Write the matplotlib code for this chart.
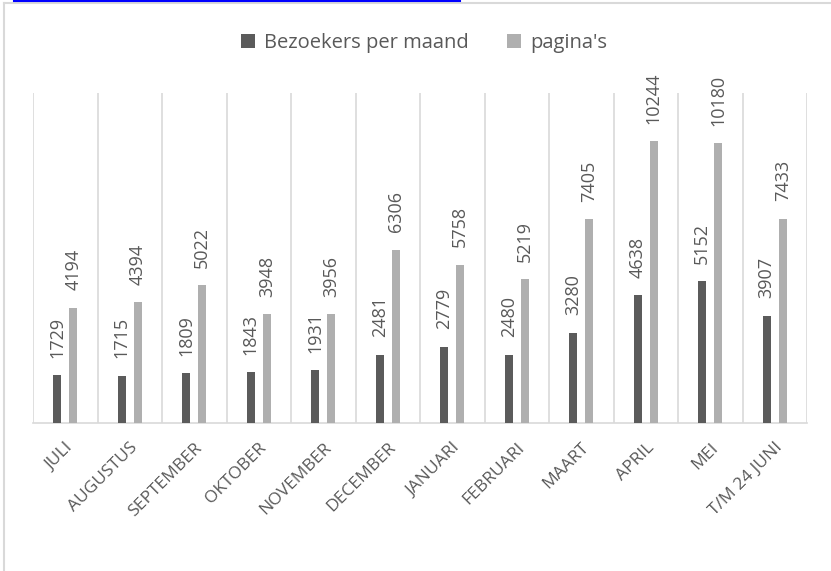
import matplotlib.pyplot as plt
import numpy as np
from matplotlib.lines import Line2D

months = ['JULI', 'AUGUSTUS', 'SEPTEMBER', 'OKTOBER', 'NOVEMBER', 'DECEMBER',
          'JANUARI', 'FEBRUARI', 'MAART', 'APRIL', 'MEI', 'T/M 24 JUNI']
bezoekers = [1729, 1715, 1809, 1843, 1931, 2481, 2779, 2480, 3280, 4638, 5152, 3907]
paginas = [4194, 4394, 5022, 3948, 3956, 6306, 5758, 5219, 7405, 10244, 10180, 7433]

dark = '#5b5b5b'
light = '#afafaf'
txt = '#595959'
grid = '#d9d9d9'

plt.rcParams['font.family'] = ['Open Sans', 'DejaVu Sans']

fig = plt.figure(figsize=(8.31, 5.71), dpi=100)
ax = fig.add_axes([33 / 831, 1 - 423 / 571, 774 / 831, 330 / 571])

x = np.arange(len(months))
w = 0.125
b1 = ax.bar(x - w, bezoekers, w, color=dark, label='Bezoekers per maand', zorder=3)
b2 = ax.bar(x + w, paginas, w, color=light, label="pagina's", zorder=3)

for xi, v in zip(x - w, bezoekers):
    ax.annotate(str(v), (xi, v), xytext=(0, 12.5), textcoords='offset points',
                rotation=90, ha='center', va='bottom', fontsize=13, color=txt)
for xi, v in zip(x + w, paginas):
    ax.annotate(str(v), (xi, v), xytext=(0, 12.5), textcoords='offset points',
                rotation=90, ha='center', va='bottom', fontsize=13, color=txt)

ax.set_xlim(-0.5, len(months) - 0.5)
ax.set_ylim(0, 12000)
ax.set_yticks([])
ax.set_xticks(x)
ax.set_xticklabels(months, rotation=45, ha='right', va='top',
                   rotation_mode='anchor', fontsize=12.5, color=txt)
ax.tick_params(axis='x', length=0, pad=12)
ax.set_xticks(np.arange(-0.5, len(months), 1), minor=True)
ax.tick_params(axis='x', which='minor', length=0)
ax.grid(which='minor', axis='x', color=grid, linewidth=1.2, zorder=0)
for s in ['top', 'left', 'right']:
    ax.spines[s].set_visible(False)
ax.spines['bottom'].set_color(grid)
ax.spines['bottom'].set_linewidth(1.2)

fig.legend(handles=[b1, b2], loc='center', bbox_to_anchor=(424 / 831, 1 - 43 / 571),
           ncol=2, frameon=False, fontsize=14.5, labelcolor=txt,
           handlelength=0.7, handleheight=0.7, handletextpad=0.45, columnspacing=1.9)

# outer frame and cut-off link line
fig.add_artist(Line2D([4 / 831, 4 / 831], [0, 1 - 3 / 571], color=grid, linewidth=1.5))
fig.add_artist(Line2D([4 / 831, 1], [1 - 3 / 571, 1 - 3 / 571], color=grid, linewidth=1.5))
fig.add_artist(Line2D([14 / 831, 460 / 831], [1 - 0.7 / 571, 1 - 0.7 / 571], color='#0000ff', linewidth=1.5))

fig.savefig('out.png', dpi=100)
